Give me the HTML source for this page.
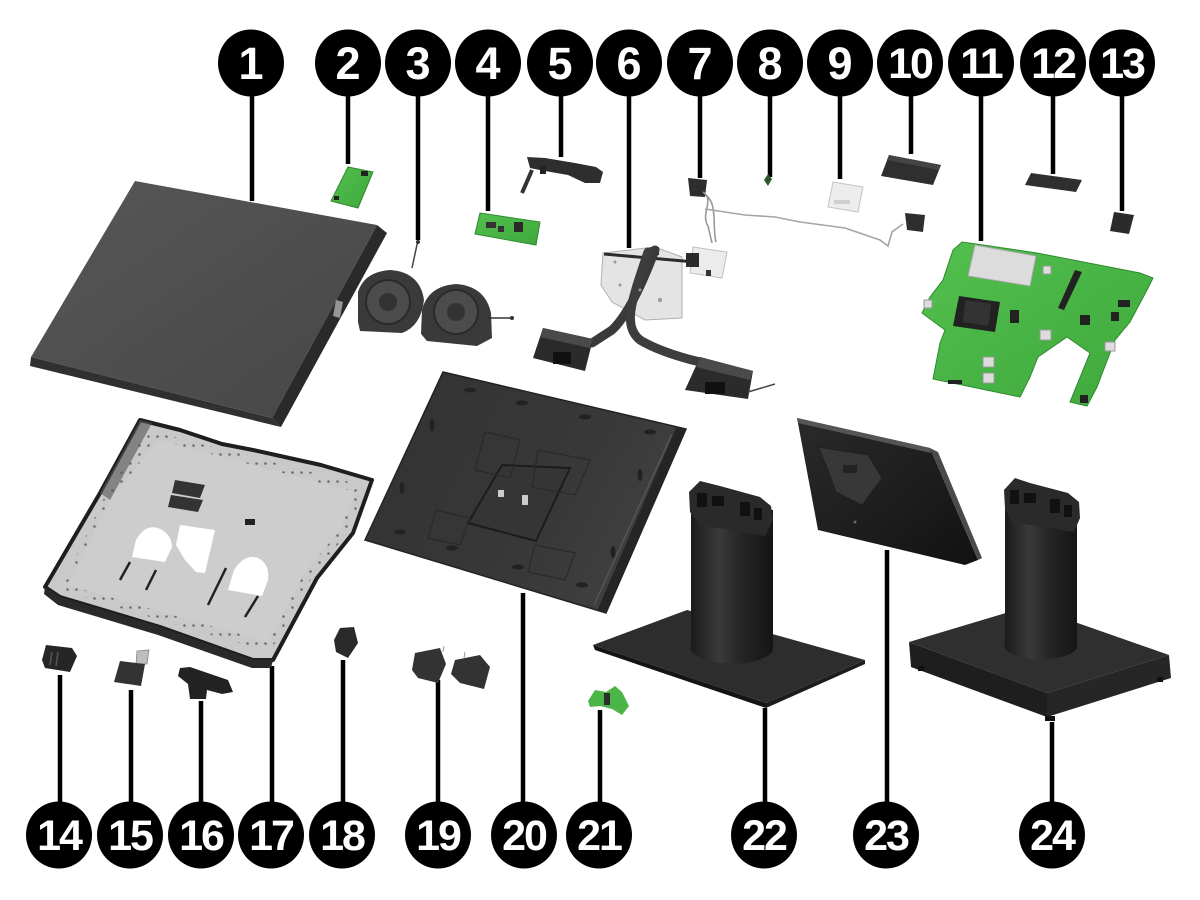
<!DOCTYPE html>
<html><head><meta charset="utf-8">
<style>
html,body{margin:0;padding:0;background:#fff;}
svg{display:block;}
.n{font-family:"Liberation Sans",Arial,sans-serif;font-weight:bold;font-size:45px;fill:#fff;text-anchor:middle;}
.n2{font-family:"Liberation Sans",Arial,sans-serif;font-weight:bold;font-size:43px;fill:#fff;text-anchor:middle;letter-spacing:-2px;}
</style></head>
<body>
<svg width="1200" height="900" viewBox="0 0 1200 900" xmlns="http://www.w3.org/2000/svg">
<defs>
<linearGradient id="g1" x1="0" y1="0" x2="1" y2="1"><stop offset="0" stop-color="#575757"/><stop offset="1" stop-color="#464646"/></linearGradient>
<linearGradient id="g20" x1="0" y1="0" x2="1" y2="0.4"><stop offset="0" stop-color="#323232"/><stop offset="0.7" stop-color="#383838"/><stop offset="1" stop-color="#404040"/></linearGradient>
<linearGradient id="col" x1="0" y1="0" x2="1" y2="0"><stop offset="0" stop-color="#1a1a1a"/><stop offset="0.35" stop-color="#3a3a3a"/><stop offset="0.6" stop-color="#262626"/><stop offset="1" stop-color="#151515"/></linearGradient>
<linearGradient id="grn" x1="0" y1="0" x2="1" y2="1"><stop offset="0" stop-color="#52c04e"/><stop offset="1" stop-color="#3fa83d"/></linearGradient>
<linearGradient id="g23" x1="0" y1="0" x2="1" y2="1"><stop offset="0" stop-color="#2a2a2a"/><stop offset="0.6" stop-color="#1c1c1c"/><stop offset="1" stop-color="#111"/></linearGradient>
<pattern id="dots" width="9" height="9" patternUnits="userSpaceOnUse"><circle cx="4.5" cy="4.5" r="1.3" fill="#222"/></pattern>
</defs>

<!-- leader lines top -->
<g stroke="#000" stroke-width="4.5">
<line x1="252" y1="95" x2="252" y2="201"/>
<line x1="348" y1="95" x2="348" y2="164"/>
<line x1="418" y1="95" x2="418" y2="240"/>
<line x1="488" y1="95" x2="488" y2="211"/>
<line x1="561" y1="95" x2="561" y2="157"/>
<line x1="629" y1="95" x2="629" y2="248"/>
<line x1="700" y1="95" x2="700" y2="178"/>
<line x1="770" y1="95" x2="770" y2="177"/>
<line x1="840" y1="95" x2="840" y2="179"/>
<line x1="911" y1="95" x2="911" y2="154"/>
<line x1="981" y1="95" x2="981" y2="241"/>
<line x1="1053" y1="95" x2="1053" y2="174"/>
<line x1="1122" y1="95" x2="1122" y2="211"/>
<!-- bottom -->
<line x1="60" y1="675" x2="60" y2="805"/>
<line x1="131" y1="690" x2="131" y2="805"/>
<line x1="201" y1="701" x2="201" y2="805"/>
<line x1="272" y1="666" x2="272" y2="805"/>
<line x1="343" y1="660" x2="343" y2="805"/>
<line x1="438" y1="680" x2="438" y2="805"/>
<line x1="523" y1="593" x2="523" y2="805"/>
<line x1="600" y1="710" x2="600" y2="805"/>
<line x1="765" y1="708" x2="765" y2="805"/>
<line x1="887" y1="550" x2="887" y2="805"/>
<line x1="1052" y1="722" x2="1052" y2="805"/>
</g>

<!-- Part 1 display panel -->
<polygon points="31,357 272,418 281,427 30,366" fill="#303030"/>
<polygon points="377,225 387,233 281,427 272,418" fill="#2a2a2a"/>
<polygon points="135,181 377,225 272,418 31,357" fill="url(#g1)"/>
<polygon points="336,300 343,302 340,318 333,316" fill="#fff" opacity="0.5"/>

<!-- Part 2 -->
<polygon points="348,167 373,172 358,208 331,201" fill="url(#grn)" stroke="#2f8a2f" stroke-width="1"/>
<rect x="361" y="171" width="7" height="5" fill="#222"/>
<rect x="334" y="196" width="5" height="4" fill="#222"/>

<!-- Part 3 fans -->
<path d="M418,240 L412,268" stroke="#444" stroke-width="1.5" fill="none"/>
<circle cx="418" cy="242" r="2" fill="#333"/>
<path d="M358,322 L358,292 Q364,272 390,270 Q420,272 424,300 Q421,326 402,333 L360,331 Z" fill="#3a3a3a"/>
<circle cx="388" cy="302" r="22" fill="#4c4c4c" stroke="#2a2a2a" stroke-width="2"/>
<circle cx="388" cy="302" r="9" fill="#333"/>
<path d="M421,334 L422,310 Q428,286 456,284 Q485,286 491,313 L492,338 L477,346 L427,341 Z" fill="#3a3a3a"/>
<circle cx="456" cy="312" r="22" fill="#4c4c4c" stroke="#2a2a2a" stroke-width="2"/>
<circle cx="456" cy="312" r="9" fill="#333"/>
<path d="M488,318 L512,318" stroke="#333" stroke-width="1.5"/>
<circle cx="512" cy="318" r="2" fill="#333"/>

<!-- Part 4 -->
<polygon points="480,213 540,222 536,245 475,234" fill="url(#grn)" stroke="#2f8a2f"/>
<rect x="514" y="222" width="9" height="10" fill="#2a2a2a"/>
<rect x="486" y="222" width="10" height="6" fill="#333"/>
<rect x="498" y="226" width="6" height="6" fill="#333"/>

<!-- Part 5 -->
<path d="M532,170 L522,193" stroke="#333" stroke-width="4"/>
<polygon points="527,157 545,158 575,163 596,167 603,172 600,183 585,183 568,175 545,171 530,168" fill="#2e2e2e"/>
<rect x="540" y="166" width="6" height="8" fill="#222"/>

<!-- Part 6 heatsink -->
<polygon points="603,253 655,247 682,257 682,318 645,320 612,302 601,285" fill="#e4e4e4" stroke="#b0b0b0"/>
<polygon points="693,247 727,252 722,278 690,273" fill="#ececec" stroke="#c0c0c0"/>
<line x1="604" y1="254" x2="695" y2="262" stroke="#2c2c2c" stroke-width="3"/>
<rect x="686" y="253" width="13" height="14" fill="#2b2b2b"/>
<rect x="706" y="270" width="5" height="6" fill="#333"/>
<rect x="650" y="247" width="9" height="8" fill="#333"/>
<path d="M655,250 C640,290 625,318 612,330 L592,343" stroke="#3a3a3a" stroke-width="9" fill="none" stroke-linecap="round"/>
<path d="M648,252 C632,300 622,325 640,340 C660,352 690,360 705,363" stroke="#3d3d3d" stroke-width="9" fill="none" stroke-linecap="round"/>
<polygon points="543,328 593,339 585,371 533,358" fill="#2b2b2b"/>
<polygon points="543,328 593,339 590,348 540,337" fill="#4a4a4a"/>
<rect x="553" y="352" width="18" height="12" fill="#111"/>
<polygon points="700,357 753,371 748,399 685,390" fill="#2b2b2b"/>
<polygon points="700,357 753,371 750,380 696,367" fill="#4a4a4a"/>
<rect x="705" y="382" width="20" height="12" fill="#111"/>
<path d="M748,392 L775,384" stroke="#444" stroke-width="1.5"/>
<g fill="#999"><circle cx="615" cy="262" r="1.5"/><circle cx="640" cy="290" r="1.5"/><circle cx="660" cy="300" r="2"/><circle cx="620" cy="285" r="1.5"/></g>

<!-- Part 7 antenna -->
<polygon points="688,178 707,180 705,197 690,196" fill="#2e2e2e"/>
<path d="M703,192 C715,200 700,214 708,226 L712,243" stroke="#9a9a9a" stroke-width="1.6" fill="none"/>
<path d="M706,195 C718,205 712,226 716,242" stroke="#9a9a9a" stroke-width="1.6" fill="none"/>
<path d="M705,209 L745,215 L775,217 L800,222 L845,228 L880,240 L888,246 L892,232 L903,224" stroke="#a5a5a5" stroke-width="1.6" fill="none"/>
<polygon points="905,213 925,215 923,232 907,230" fill="#2e2e2e"/>

<!-- Part 8 -->
<polygon points="768,174 772,179 768,186 764,180" fill="#2a5a2a"/>

<!-- Part 9 -->
<polygon points="833,182 863,187 858,212 828,207" fill="#ededed" stroke="#c5c5c5"/>
<rect x="834" y="200" width="16" height="4" fill="#d0d0d0"/>

<!-- Part 10 -->
<polygon points="889,155 941,165 933,185 881,176" fill="#2f2f2f"/>
<polygon points="889,155 941,165 939,170 887,160" fill="#444"/>

<!-- Part 11 motherboard -->
<polygon points="962,242 983,245 1037,253 1140,273 1153,278 1147,290 1130,322 1115,340 1097,387 1087,406 1070,402 1090,353 1067,337 1038,357 1030,377 1020,397 933,379 940,343 945,330 922,313 930,297 943,280 953,250" fill="url(#grn)" stroke="#2f8a2f"/>
<polygon points="975,245 1036,256 1030,286 968,276" fill="#dcdcdc" stroke="#a8a8a8"/>
<polygon points="959,296 1000,302 995,332 953,326" fill="#222"/>
<rect x="964" y="302" width="26" height="22" fill="#333" transform="rotate(8 977 313)"/>
<polygon points="1075,270 1082,272 1064,310 1058,308" fill="#222"/>
<rect x="1010" y="310" width="9" height="13" fill="#222"/>
<rect x="1080" y="315" width="10" height="10" fill="#222"/>
<rect x="1118" y="300" width="12" height="7" fill="#222"/>
<rect x="1111" y="312" width="8" height="9" fill="#222"/>
<rect x="1040" y="330" width="11" height="10" fill="#ddd" stroke="#999"/>
<rect x="983" y="357" width="11" height="10" fill="#ddd" stroke="#999"/>
<rect x="983" y="373" width="11" height="10" fill="#ddd" stroke="#999"/>
<rect x="1105" y="342" width="10" height="9" fill="#ddd" stroke="#999"/>
<rect x="924" y="300" width="8" height="8" fill="#ddd" stroke="#999"/>
<rect x="1043" y="266" width="8" height="8" fill="#ddd" stroke="#999"/>
<rect x="1080" y="395" width="8" height="8" fill="#222"/>
<rect x="948" y="380" width="14" height="4" fill="#222"/>

<!-- Part 12 -->
<polygon points="1031,173 1082,180 1076,192 1025,185" fill="#2f2f2f"/>
<!-- Part 13 -->
<polygon points="1114,212 1134,215 1129,234 1110,231" fill="#2b2b2b"/>

<!-- Part 17 chassis -->
<polygon points="140,420 180,430 222,444 253,450 321,465 372,480 353,533 317,578 273,660 253,660 160,627 60,597 45,587 100,493" fill="#c9c9c9" stroke="#1e1e1e" stroke-width="4" stroke-linejoin="round"/>
<polygon points="45,587 60,597 160,627 253,660 273,660 271,668 252,668 158,635 58,605 44,594" fill="#2a2a2a"/>
<polygon points="148,430 365,486 348,532 312,577 270,652 160,620 60,590 105,496" fill="url(#dots)" opacity="0.55"/>
<polygon points="158,440 355,492 340,530 305,572 268,642 162,612 68,585 110,500" fill="#cdcdcd"/>
<path d="M132,557 L136,540 Q145,524 158,528 Q172,534 172,547 L165,562 Z" fill="#fff"/>
<path d="M228,590 L234,570 Q245,553 258,558 Q270,564 268,580 L262,596 Z" fill="#fff"/>
<polygon points="180,525 215,530 205,573 196,572 185,560 176,545" fill="#fff"/>
<polygon points="175,480 205,485 200,498 172,493" fill="#333"/>
<polygon points="171,495 203,500 198,512 168,507" fill="#333"/>
<rect x="245" y="519" width="10" height="6" fill="#222"/>
<g stroke="#222" stroke-width="2.5">
<line x1="120" y1="580" x2="130" y2="562"/><line x1="146" y1="590" x2="156" y2="570"/>
<line x1="208" y1="605" x2="226" y2="568"/><line x1="245" y1="617" x2="258" y2="596"/>
</g>
<polygon points="140,420 152,423 110,500 100,493" fill="#555" opacity="0.6"/>

<!-- Part 20 back cover -->
<polygon points="443,372 686,429 606,613 365,540" fill="url(#g20)" stroke="#222" stroke-width="1.5"/>
<polygon points="676,428 686,429 606,613 597,611" fill="#252525"/>
<line x1="672" y1="434" x2="594" y2="605" stroke="#555" stroke-width="1.5"/>
<polygon points="502,465 570,468 536,541 468,523" fill="#353535" stroke="#1c1c1c" stroke-width="2"/>
<polygon points="485,432 520,440 510,478 475,470" fill="none" stroke="#2a2a2a" stroke-width="1.2"/>
<polygon points="538,450 590,460 575,495 532,487" fill="none" stroke="#2a2a2a" stroke-width="1.2"/>
<polygon points="436,510 470,518 460,545 428,538" fill="none" stroke="#2a2a2a" stroke-width="1.2"/>
<polygon points="535,545 575,553 565,580 528,572" fill="none" stroke="#2a2a2a" stroke-width="1.2"/>
<rect x="498" y="490" width="6" height="7" fill="#ccc"/>
<rect x="522" y="495" width="6" height="10" fill="#ccc"/>
<g fill="#222"><ellipse cx="470" cy="390" rx="6" ry="2.5"/><ellipse cx="522" cy="403" rx="6" ry="2.5"/><ellipse cx="585" cy="417" rx="6" ry="2.5"/><ellipse cx="650" cy="432" rx="6" ry="2.5"/><ellipse cx="400" cy="532" rx="6" ry="2.5"/><ellipse cx="452" cy="548" rx="6" ry="2.5"/><ellipse cx="518" cy="567" rx="6" ry="2.5"/><ellipse cx="582" cy="585" rx="6" ry="2.5"/><ellipse cx="402" cy="488" rx="2.5" ry="6"/><ellipse cx="432" cy="425" rx="2.5" ry="6"/><ellipse cx="640" cy="475" rx="2.5" ry="6"/><ellipse cx="613" cy="552" rx="2.5" ry="6"/></g>

<!-- Part 14 -->
<polygon points="46,645 72,648 77,656 70,672 45,668 42,660" fill="#262626"/>
<line x1="52" y1="652" x2="50" y2="665" stroke="#555" stroke-width="1.5"/><line x1="58" y1="652" x2="56" y2="666" stroke="#555" stroke-width="1.5"/>
<!-- Part 15 -->
<polygon points="137,651 149,650 147,664 136,664" fill="#bdbdbd" stroke="#888" stroke-width="0.8"/>
<polygon points="120,661 145,664 141,686 114,682" fill="#333"/>
<!-- Part 16 -->
<polygon points="180,668 190,667 228,680 233,692 222,694 207,690 206,699 190,699 188,684 178,676" fill="#222"/>
<!-- Part 18 -->
<polygon points="340,628 354,627 358,643 348,658 336,652 334,640" fill="#2a2a2a"/>
<!-- Part 19 -->
<polygon points="415,653 440,648 446,664 438,683 418,678 412,670" fill="#333"/>
<polygon points="455,660 480,655 490,667 484,689 460,683 451,674" fill="#333"/>
<line x1="443" y1="652" x2="444" y2="646" stroke="#999"/><line x1="464" y1="658" x2="465" y2="652" stroke="#999"/>
<!-- Part 21 -->
<polygon points="588,701 595,690 606,692 615,686 622,692 629,706 622,715 612,709 600,706 590,707" fill="#4cb548"/>
<rect x="604" y="693" width="6" height="12" fill="#2d2d2d"/>

<!-- Part 22 stand -->
<polygon points="593,645 766,703 766,708 595,650" fill="#141414"/>
<polygon points="766,703 865,660 865,664 766,708" fill="#1c1c1c"/>
<polygon points="593,645 687,610 865,660 766,703" fill="#2d2d2d"/>
<path d="M691,508 L691,645 A41,16 0 0 0 773,650 L773,510 Z" fill="url(#col)"/>
<polygon points="689,492 700,481 720,486 760,497 771,506 773,520 765,536 700,525 690,512" fill="#2a2a2a"/>
<g fill="#111"><rect x="697" y="493" width="10" height="14"/><rect x="712" y="496" width="12" height="10"/><rect x="740" y="502" width="10" height="14"/><rect x="754" y="508" width="8" height="12"/></g>

<!-- Part 24 stand -->
<polygon points="909,642 1047,693 1047,717 911,667" fill="#1e1e1e"/>
<polygon points="1047,693 1169,655 1171,678 1047,717" fill="#262626"/>
<polygon points="909,642 1029,606 1169,655 1047,693" fill="#2f2f2f"/>
<rect x="918" y="666" width="6" height="5" fill="#111"/><rect x="1045" y="716" width="10" height="5" fill="#111"/><rect x="1157" y="677" width="6" height="5" fill="#111"/>
<path d="M1005,505 L1005,642 A36,14 0 0 0 1077,648 L1077,507 Z" fill="url(#col)"/>
<polygon points="1004,490 1015,478 1030,483 1068,493 1079,502 1080,518 1074,532 1012,522 1005,508" fill="#2a2a2a"/>
<g fill="#111"><rect x="1010" y="490" width="9" height="14"/><rect x="1024" y="493" width="12" height="10"/><rect x="1050" y="499" width="10" height="14"/><rect x="1064" y="505" width="8" height="12"/></g>

<!-- Part 23 head -->
<polygon points="797,418 930,448 978,560 965,565 818,530" fill="url(#g23)"/>
<polygon points="930,448 938,452 982,558 978,560" fill="#4a4a4a"/>
<polygon points="797,418 930,448 931,453 798,423" fill="#555"/>
<polygon points="818,447 868,455 882,478 862,505 836,492 828,470" fill="#383838" stroke="#222"/>
<rect x="843" y="465" width="14" height="8" fill="#222"/>
<circle cx="855" cy="522" r="1.5" fill="#666"/>

<!-- Number circles -->
<g fill="#000">
<ellipse cx="251" cy="63" rx="33" ry="33.5"/><ellipse cx="348" cy="63" rx="33" ry="33.5"/><ellipse cx="418" cy="63" rx="33" ry="33.5"/><ellipse cx="488" cy="63" rx="33" ry="33.5"/><ellipse cx="560" cy="63" rx="33" ry="33.5"/><ellipse cx="629" cy="63" rx="33" ry="33.5"/><ellipse cx="700" cy="63" rx="33" ry="33.5"/><ellipse cx="770" cy="63" rx="33" ry="33.5"/><ellipse cx="840" cy="63" rx="33" ry="33.5"/><ellipse cx="910" cy="63" rx="33" ry="33.5"/><ellipse cx="981" cy="63" rx="33" ry="33.5"/><ellipse cx="1053" cy="63" rx="33" ry="33.5"/><ellipse cx="1122" cy="63" rx="33" ry="33.5"/>
<ellipse cx="59" cy="835" rx="33" ry="33.5"/><ellipse cx="130" cy="835" rx="33" ry="33.5"/><ellipse cx="201" cy="835" rx="33" ry="33.5"/><ellipse cx="271" cy="835" rx="33" ry="33.5"/><ellipse cx="342" cy="835" rx="33" ry="33.5"/><ellipse cx="438" cy="835" rx="33" ry="33.5"/><ellipse cx="524" cy="835" rx="33" ry="33.5"/><ellipse cx="599" cy="835" rx="33" ry="33.5"/><ellipse cx="764" cy="835" rx="33" ry="33.5"/><ellipse cx="886" cy="835" rx="33" ry="33.5"/><ellipse cx="1052" cy="835" rx="33" ry="33.5"/>
</g>
<g>
<text class="n" x="251" y="79">1</text><text class="n" x="348" y="79">2</text><text class="n" x="418" y="79">3</text><text class="n" x="488" y="79">4</text><text class="n" x="560" y="79">5</text><text class="n" x="629" y="79">6</text><text class="n" x="700" y="79">7</text><text class="n" x="770" y="79">8</text><text class="n" x="840" y="79">9</text>
<text class="n2" x="910" y="78">10</text><text class="n2" x="981" y="78">11</text><text class="n2" x="1053" y="78">12</text><text class="n2" x="1122" y="78">13</text>
<text class="n2" x="59" y="850">14</text><text class="n2" x="130" y="850">15</text><text class="n2" x="201" y="850">16</text><text class="n2" x="271" y="850">17</text><text class="n2" x="342" y="850">18</text><text class="n2" x="438" y="850">19</text><text class="n2" x="524" y="850">20</text><text class="n2" x="599" y="850">21</text><text class="n2" x="764" y="850">22</text><text class="n2" x="886" y="850">23</text><text class="n2" x="1052" y="850">24</text>
</g>
</svg>
</body></html>
